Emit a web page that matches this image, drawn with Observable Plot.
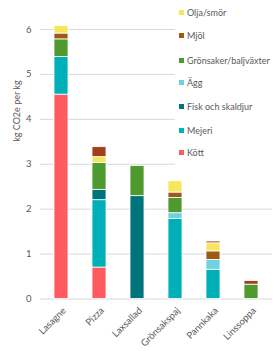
<!DOCTYPE html>
<html>
<head>
<meta charset="utf-8">
<script src="https://cdn.jsdelivr.net/npm/d3@7"></script>
<script src="https://cdn.jsdelivr.net/npm/@observablehq/plot@0.6"></script>
<style>
  html, body { margin: 0; padding: 0; background: #fff; }
  #wrap { position: relative; width: 273px; height: 351px; font-family: Lato, "Open Sans", sans-serif; }
  #legend { position: absolute; left: 175px; top: 0; width: 98px; height: 172px; background: #fff; }
  .item { position: absolute; left: 4px; font-size: 9px; color: #595959; line-height: 10px; white-space: nowrap; }
  .sw { display: inline-block; width: 5px; height: 5px; margin-right: 3px; vertical-align: 1px; }
</style>
</head>
<body>
<div id="wrap"><div id="legend"></div></div>
<script>
const categories = ["Lasagne", "Pizza", "Laxsallad", "Grönsakspaj", "Pannkaka", "Linssoppa"];
const series = ["Kött", "Mejeri", "Fisk och skaldjur", "Ägg", "Grönsaker/baljväxter", "Mjöl", "Olja/smör", "Övrigt"];
const colors = ["#ff5a5f", "#00b0b9", "#00737b", "#6dd2e0", "#4e9a2e", "#9b5b17", "#f5e65e", "#a0401a"];
const kott      = [4.55, 0.70, 0,    0,    0,    0];
const mejeri    = [0.84, 1.50, 0,    1.78, 0.65, 0];
const fisk      = [0,    0.23, 2.29, 0,    0,    0];
const agg       = [0,    0,    0,    0.13, 0.22, 0];
const gronsaker = [0.39, 0.60, 0.67, 0.34, 0,    0.32];
const mjol      = [0.13, 0,    0,    0.12, 0.19, 0];
const olja      = [0.17, 0.13, 0,    0.25, 0.18, 0];
const ovrigt    = [0,    0.22, 0,    0,    0.04, 0.08];
const legendSeries = ["Olja/smör", "Mjöl", "Grönsaker/baljväxter", "Ägg", "Fisk och skaldjur", "Mejeri", "Kött"];
const yTicks = [0, 1, 2, 3, 4, 5, 6];
const yLabel = "kg CO2e per kg";

const values = [kott, mejeri, fisk, agg, gronsaker, mjol, olja, ovrigt];
const data = [];
series.forEach((s, si) => categories.forEach((c, ci) => {
  data.push({food: c, series: s, value: values[si][ci]});
}));

const chart = Plot.plot({
  width: 273,
  height: 351,
  marginLeft: 40,
  marginRight: 1,
  marginTop: 29,
  marginBottom: 52.5,
  style: {fontFamily: "Lato, 'Open Sans', sans-serif", color: "#595959", background: "#fff"},
  x: {domain: categories, paddingInner: 0.625, paddingOuter: 0.3125, label: null},
  y: {domain: [0, 6], label: null},
  color: {domain: series, range: colors},
  marks: [
    Plot.ruleY(yTicks, {stroke: "#d9d9d9", strokeWidth: 1}),
    Plot.barY(data, {x: "food", y: "value", fill: "series", order: series, stroke: "white", strokeWidth: 0.8}),
    Plot.axisY(yTicks, {tickSize: 0, tickPadding: 9, fontSize: 9.5, label: null}),
    Plot.axisX({tickSize: 0, tickRotate: -45, tickPadding: 10, dx: 3, fontSize: 9.5, label: null}),
    Plot.text([yLabel], {y: [3.5], frameAnchor: "left", dx: -23, rotate: -90, text: d => d, fontSize: 9, fill: "#595959"})
  ]
});
document.getElementById("wrap").prepend(chart);

const legend = document.getElementById("legend");
const tops = [13.3, 35.7, 60.7, 83.3, 107.3, 130.7, 153.3];
legendSeries.forEach((s, i) => {
  const d = document.createElement("div");
  d.className = "item";
  d.style.top = (tops[i] - 5) + "px";
  d.innerHTML = `<span class="sw" style="background:${colors[series.indexOf(s)]}"></span>`;
  d.appendChild(document.createTextNode(s));
  legend.appendChild(d);
});
</script>
</body>
</html>
